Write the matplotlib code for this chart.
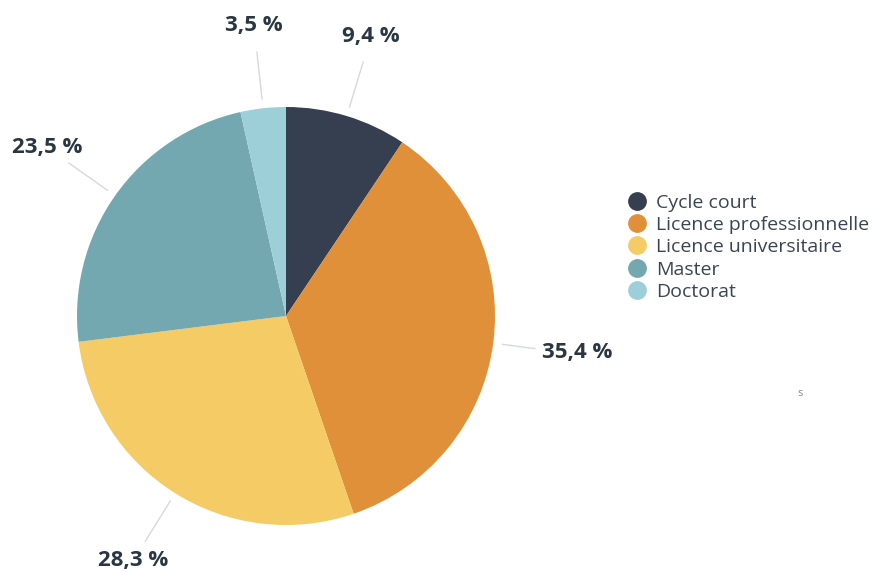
import numpy as np
import matplotlib
matplotlib.use("Agg")
import matplotlib.pyplot as plt
from matplotlib.lines import Line2D

plt.rcParams['font.family'] = ['Open Sans', 'DejaVu Sans']

categories = ["Cycle court", "Licence professionnelle", "Licence universitaire", "Master", "Doctorat"]
values = [9.4, 35.4, 28.3, 23.5, 3.5]
labels = ["9,4 %", "35,4 %", "28,3 %", "23,5 %", "3,5 %"]
colors = ["#363f50", "#e09038", "#f5cb65", "#74a8b0", "#9dcfd9"]

W, H = 875, 572
fig = plt.figure(figsize=(W / 100, H / 100), dpi=100)
ax = fig.add_axes([0, 0, 1, 1])

cx, cy, r = 286, H - 316, 209
wedges, _ = ax.pie(values, colors=colors, startangle=90, counterclock=False,
                   center=(cx, cy), radius=r, frame=True,
                   wedgeprops=dict(linewidth=0))
ax.set_xlim(0, W)
ax.set_ylim(0, H)
ax.axis('off')

text_color = "#2a3742"
for w, lab in zip(wedges, labels):
    ang = np.deg2rad((w.theta1 + w.theta2) / 2)
    ca, sa = np.cos(ang), np.sin(ang)
    horiz = abs(ca) > 0.9
    r1, r2 = 1.045, (1.2 if horiz else 1.27)
    ax.plot([cx + r1 * r * ca, cx + r2 * r * ca], [cy + r1 * r * sa, cy + r2 * r * sa],
            color="#d6d9dc", lw=1.0)
    rl = 1.34 if horiz else (1.38 if sa < -0.5 else 1.4)
    ax.text(cx + rl * r * ca + (13 if horiz else 0), cy + rl * r * sa, lab,
            ha='center', va='center', fontsize=16, fontweight='bold', color=text_color)

handles = [Line2D([0], [0], marker='o', linestyle='none', markersize=12.5,
                  markerfacecolor=c, markeredgecolor=c) for c in colors]
leg = ax.legend(handles, categories, loc='upper left', bbox_to_anchor=(617 / W, 1 - 184 / H),
                bbox_transform=ax.transAxes, frameon=False, fontsize=14,
                handletextpad=0.4, labelspacing=0.22, handlelength=1.1, borderpad=0)
for t in leg.get_texts():
    t.set_color("#3a4552")

ax.text(800, H - 393, "s", fontsize=8, color="#7f8796", ha='center', va='center')

fig.savefig("out.png", dpi=100)
